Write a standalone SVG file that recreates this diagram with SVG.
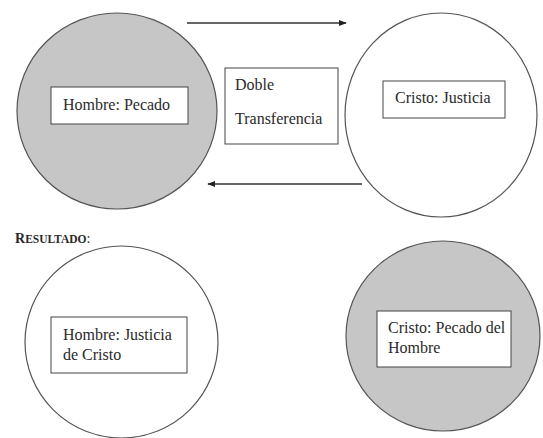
<svg xmlns="http://www.w3.org/2000/svg" width="543" height="438" viewBox="0 0 543 438">
<defs>
<style>
.circ{stroke:#555;stroke-width:1.2}
.grey{fill:#c6c6c6}
.white{fill:#fff}
.box{fill:#fff;stroke:#444;stroke-width:1}
.t{font-size:16px;fill:#2a2a2a}
.res{font-weight:bold;fill:#2a2a2a}
.conn{stroke:#333;stroke-width:1.3;fill:none}
</style>
<marker id="ah" viewBox="0 0 10 10" refX="9" refY="5" markerWidth="8" markerHeight="8" markerUnits="userSpaceOnUse" orient="auto">
<path d="M0,1 L10,5 L0,9 Z" fill="#222"/>
</marker>
</defs>
<rect width="543" height="438" fill="#fff"/>
<g id="connectors">
<line class="conn" x1="187" y1="23" x2="346" y2="23" marker-end="url(#ah)"/>
<line class="conn" x1="362" y1="184" x2="208" y2="184" marker-end="url(#ah)"/>
</g>
<g font-family="'Liberation Serif', 'Times New Roman', Times, serif">
<g id="hombre-pecado">
<ellipse class="circ grey" cx="117" cy="111" rx="100" ry="98"/>
<rect class="box" x="51" y="87" width="137" height="37"/>
<text class="t" x="63" y="110">Hombre: Pecado</text>
</g>
<g id="doble-transferencia">
<rect class="box" x="225" y="68" width="113" height="76"/>
<text class="t" x="235" y="90">Doble</text>
<text class="t" x="235" y="124">Transferencia</text>
</g>
<g id="cristo-justicia">
<ellipse class="circ white" cx="441" cy="115" rx="96" ry="102"/>
<rect class="box" x="383" y="81" width="122" height="37"/>
<text class="t" x="395" y="103">Cristo: Justicia</text>
</g>
<g id="resultado">
<text class="res" x="15" y="243"><tspan font-size="14">R</tspan><tspan font-size="11.5">ESULTADO</tspan><tspan font-size="14" font-weight="normal">:</tspan></text>
</g>
<g id="hombre-justicia">
<ellipse class="circ white" cx="121.5" cy="342" rx="96.5" ry="96"/>
<rect class="box" x="51" y="317" width="136" height="56"/>
<text class="t" x="63" y="340">Hombre: Justicia</text>
<text class="t" x="63" y="360">de Cristo</text>
</g>
<g id="cristo-pecado">
<ellipse class="circ grey" cx="443" cy="336" rx="97" ry="95"/>
<rect class="box" x="377" y="311" width="134" height="56"/>
<text class="t" x="388" y="333">Cristo: Pecado del</text>
<text class="t" x="388" y="353">Hombre</text>
</g>
</g>
</svg>
